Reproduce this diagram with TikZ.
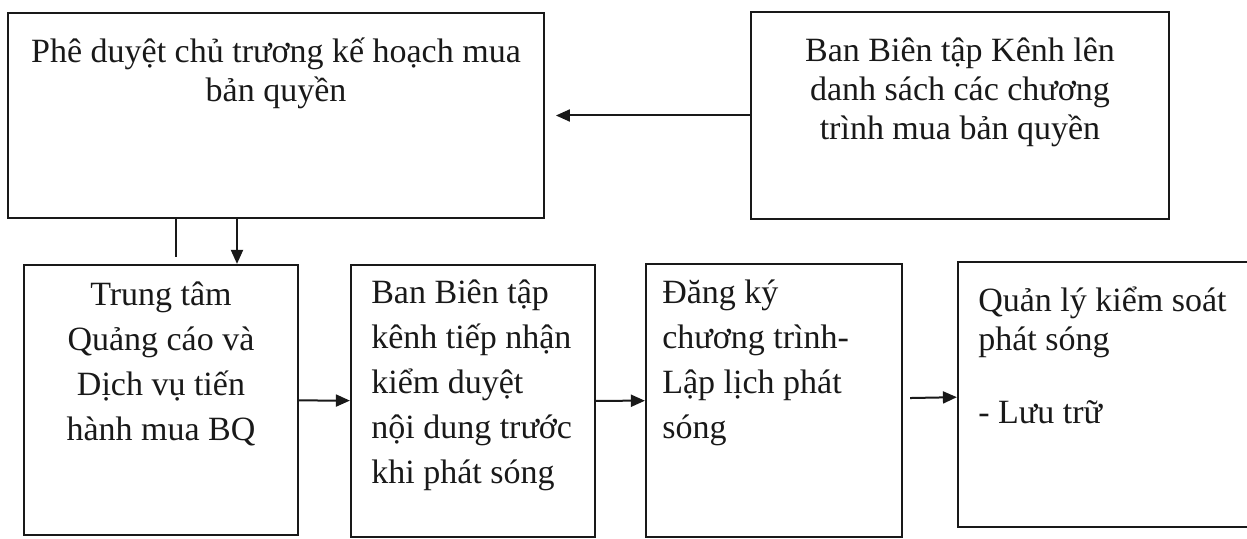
\documentclass[tikz,border=0pt]{standalone}
\usepackage{fontspec}
\setmainfont{Liberation Serif}
\usetikzlibrary{arrows.meta,calc}
\definecolor{inkblack}{RGB}{25,25,25}

\begin{document}
\begin{tikzpicture}[
    x=0.5pt, y=-0.5pt,
    >={Triangle[length=7pt,width=6pt]},
    box/.style={draw=inkblack, line width=1.1pt, inner sep=0pt},
    txt/.style={inner sep=0pt, font=\fontsize{17pt}{19.5pt}\selectfont, text=inkblack},
    txtloose/.style={txt, font=\fontsize{17pt}{22.5pt}\selectfont},
    arrow/.style={->, line width=1pt, inkblack}
]
\useasboundingbox (0,0) rectangle (1247,539);

% Top row.
\node[box, minimum width=268pt, minimum height=102.5pt] (plan) at (276,115.5) {};
\node[box, minimum width=209pt, minimum height=103.5pt] (list) at (960,115.5) {};
% (base = baseline of the last line)
\node[txt, align=center, anchor=base] (plantxt) at ($(plan.north)+(0,90)$)
    {Phê duyệt chủ trương kế hoạch mua\\bản quyền};
\node[txt, align=center, anchor=base] (listtxt) at ($(list.north)+(0,129)$)
    {Ban Biên tập Kênh lên\\danh sách các chương\\trình mua bản quyền};

% Bottom row.
\node[box, minimum width=137pt, minimum height=135pt] (buy) at (161,400) {};
\node[box, minimum width=122pt, minimum height=136pt] (review) at (473,401) {};
\node[box, minimum width=128pt, minimum height=136.5pt] (schedule) at (774,400.5) {};
\node[box, minimum width=147pt, minimum height=132.5pt] (control) at (1105,394.5) {};
\node[txtloose, align=center, anchor=base] (buytxt) at ($(buy.north)+(0,177)$)
    {Trung tâm\\Quảng cáo và\\Dịch vụ tiến\\hành mua BQ};
\node[txtloose, align=left, anchor=base west] (reviewtxt) at ($(review.north west)+(21,220)$)
    {Ban Biên tập\\kênh tiếp nhận\\kiểm duyệt\\nội dung trước\\khi phát sóng};
\node[txtloose, align=left, anchor=base west] (scheduletxt) at ($(schedule.north west)+(17,176)$)
    {Đăng ký\\chương trình-\\Lập lịch phát\\sóng};
\node[txt, align=left, anchor=base west] (controltxt) at ($(control.north west)+(21,163)$)
    {Quản lý kiểm soát\\phát sóng\\[17pt]- Lưu trữ};

% Connectors.
\coordinate (tip) at ($(list.west)+(-194,0)$);
\coordinate (stub) at (176,257);
\coordinate (drop) at (237,240);
\draw[arrow] (list.west) -- (tip);
\draw[line width=1pt, inkblack] (plan.south -| stub) -- (stub);
\draw[arrow] (plan.south -| drop) -- (buy.north -| drop);
\draw[arrow] (buy) -- (review);
\draw[arrow] (review) -- (schedule);
\draw[arrow, shorten <=3.5pt] (schedule) -- (control);

\end{tikzpicture}
\end{document}
